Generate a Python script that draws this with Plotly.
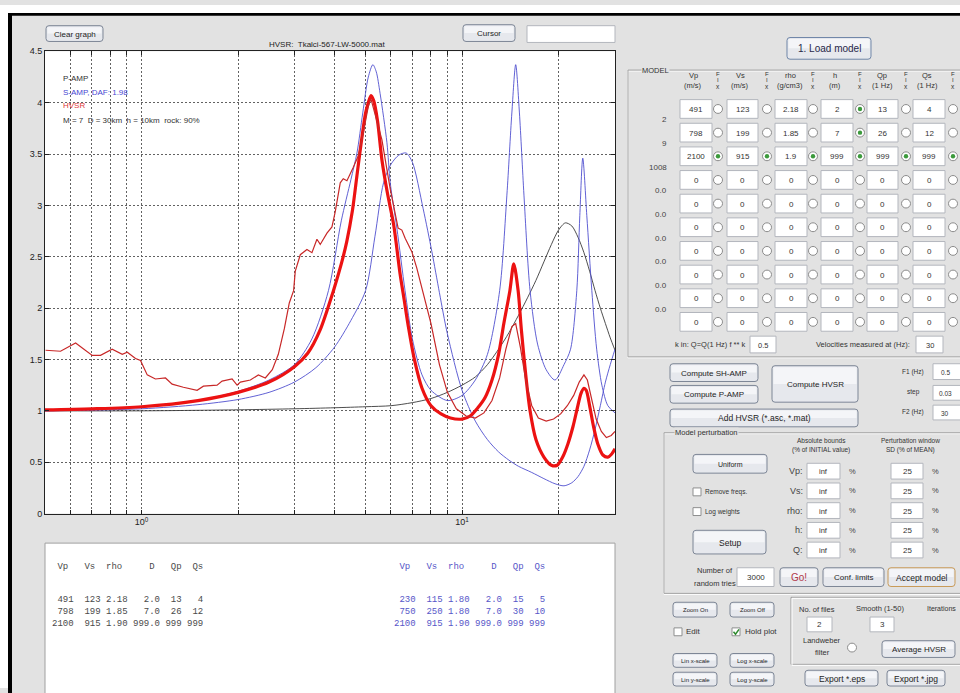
import plotly.graph_objects as go

W, H = 960, 693
BG = '#e2e2e2'

# ------------------------------------------------------------------ data
pamp_f = [0.5, 1, 2, 3, 4, 5, 6, 7, 8, 9, 10, 11, 12, 13, 14, 15, 16, 17, 18, 19, 20,
          21, 22, 23, 24, 25, 26, 27, 28, 29, 30]
pamp_v = [1.00, 1.00, 1.01, 1.02, 1.03, 1.04, 1.05, 1.08, 1.12, 1.18, 1.25, 1.33, 1.45,
          1.60, 1.76, 1.93, 2.10, 2.27, 2.45, 2.62, 2.76, 2.83, 2.80, 2.69, 2.54, 2.36,
          2.17, 2.00, 1.85, 1.71, 1.59]

sh1_f = [0.5, 1.0, 1.5, 2.0, 2.5, 3.0, 3.4, 3.83, 4.2, 4.5, 4.7, 4.9, 5.1, 5.27, 5.4,
         5.55, 5.83, 5.97, 6.26, 6.64, 7.0, 7.5, 8.0, 9.0, 10.0, 11.0, 12.0, 13.1, 13.8,
         14.3, 14.7, 15.1, 15.6, 16.3, 17.2, 18.3, 19.5, 20.8, 21.8, 22.8, 23.3, 23.8,
         24.5, 25.4, 26.3, 27.3, 28.5, 30.0]
sh1_v = [1.00, 1.04, 1.10, 1.19, 1.30, 1.45, 1.70, 2.17, 2.85, 3.25, 3.51, 3.90, 4.25,
         4.37, 4.30, 4.09, 3.61, 3.22, 2.78, 2.17, 1.70, 1.35, 1.20, 1.10, 1.15, 1.30,
         1.55, 2.17, 3.10, 3.90, 4.37, 3.90, 3.10, 2.17, 1.65, 1.40, 1.30, 1.45, 1.60,
         2.17, 2.90, 3.46, 2.90, 2.17, 1.60, 1.25, 1.05, 0.98]

sh2_f = [0.5, 1.0, 1.5, 2.0, 2.5, 3.0, 3.5, 4.0, 4.5, 5.0, 5.35, 5.69, 6.0, 6.35, 6.69,
         7.0, 7.56, 8.05, 8.5, 9.0, 10.0, 11.0, 12.0, 13.0, 14.0, 15.0, 16.5, 18.0, 19.5,
         20.8, 22.0, 23.0, 24.0, 25.0, 26.0, 27.0, 28.0, 29.0, 30.0]
sh2_v = [1.00, 1.02, 1.06, 1.11, 1.18, 1.28, 1.42, 1.62, 1.88, 2.17, 2.70, 3.22, 3.40,
         3.49, 3.51, 3.42, 2.97, 2.55, 2.15, 1.75, 1.20, 0.90, 0.72, 0.60, 0.52, 0.46,
         0.40, 0.34, 0.29, 0.27, 0.30, 0.36, 0.46, 0.62, 0.82, 1.05, 1.28, 1.45, 1.60]

hvsr_model_f = [0.5, 0.7, 1.0, 1.5, 2.0, 2.5, 3.0, 3.3, 3.6, 3.97, 4.2, 4.37, 4.55, 4.7,
                4.85, 5.0, 5.1, 5.2, 5.3, 5.45, 5.62, 5.85, 6.12, 6.41, 6.6, 6.8, 7.1,
                7.5, 8.0, 8.6, 9.2, 10.0, 10.6, 11.2, 11.8, 12.4, 13.0, 13.5, 14.1, 14.5,
                14.96, 15.3, 15.8, 16.3, 17.0, 18.0, 19.0, 19.8, 20.6, 21.4, 22.2, 22.9,
                23.5, 24.0, 24.4, 25.0, 25.7, 26.5, 27.5, 28.5, 29.3, 30.0]
hvsr_model_v = [1.01, 1.02, 1.04, 1.10, 1.18, 1.28, 1.43, 1.56, 1.78, 2.17, 2.43, 2.65,
                2.95, 3.29, 3.62, 3.90, 4.00, 4.07, 4.02, 3.82, 3.45, 3.12, 2.81, 2.33,
                2.08, 1.82, 1.50, 1.22, 1.05, 0.97, 0.93, 0.92, 0.95, 1.03, 1.13, 1.30,
                1.55, 1.85, 2.17, 2.43, 2.17, 1.80, 1.35, 1.00, 0.72, 0.55, 0.47, 0.47,
                0.55, 0.68, 0.85, 1.03, 1.17, 1.22, 1.20, 1.05, 0.85, 0.68, 0.57, 0.55,
                0.58, 0.63]

hvsr_obs_f = [0.502, 0.559, 0.623, 0.702, 0.745, 0.810, 0.871, 0.903, 0.958, 0.993, 1.042,
              1.105, 1.188, 1.246, 1.351, 1.491, 1.560, 1.721, 1.784, 1.917, 1.987, 2.035,
              2.186, 2.315, 2.434, 2.559, 2.672, 2.790, 2.891, 2.982, 3.018, 3.129, 3.282,
              3.402, 3.526, 3.611, 3.789, 3.928, 4.022, 4.169, 4.260, 4.374, 4.576, 4.743,
              4.916, 5.095, 5.194, 5.423, 5.622, 5.828, 5.968, 6.318, 6.489, 6.645, 6.971,
              7.225, 7.490, 8.0, 8.5, 9.0, 9.6, 10.3, 11.0, 11.7, 12.4, 13.1, 13.7, 14.3,
              14.7, 15.2, 15.8, 16.5, 17.3, 18.3, 19.3, 20.3, 21.3, 22.3, 23.2, 24.0, 24.6,
              25.3, 26.2, 27.2, 28.2, 29.2, 30.0]
hvsr_obs_v = [1.59, 1.58, 1.66, 1.54, 1.54, 1.60, 1.55, 1.57, 1.51, 1.49, 1.35, 1.31, 1.32,
              1.26, 1.23, 1.20, 1.24, 1.25, 1.29, 1.31, 1.25, 1.28, 1.30, 1.35, 1.32, 1.40,
              1.55, 1.80, 2.05, 2.17, 2.36, 2.52, 2.57, 2.54, 2.67, 2.62, 2.73, 2.79, 2.94,
              3.22, 3.26, 3.24, 3.37, 3.48, 3.70, 3.96, 4.04, 3.83, 3.64, 3.35, 3.16, 2.78,
              2.76, 2.68, 2.55, 2.39, 2.20, 1.85, 1.45, 1.18, 1.02, 0.95, 0.93, 0.98, 1.10,
              1.32, 1.60, 1.82, 1.85, 1.62, 1.30, 1.05, 0.93, 0.90, 0.92, 0.97, 1.05, 1.15,
              1.28, 1.35, 1.30, 1.12, 0.92, 0.80, 0.74, 0.76, 0.80]

y_tick_vals = [0, 0.5, 1, 1.5, 2, 2.5, 3, 3.5, 4, 4.5]
y_tick_text = ['0', '0.5', '1', '1.5', '2', '2.5', '3', '3.5', '4', '4.5']
x_tick_vals = [1, 10]
x_tick_text = ['10<sup>0</sup>', '10<sup>1</sup>']
x_minor_vals = [0.6, 0.7, 0.8, 0.9, 2, 3, 4, 5, 6, 7, 8, 9, 20]

# GUI model table values
model_cols = ['Vp', 'Vs', 'rho', 'h', 'Qp', 'Qs']
model_units = ['(m/s)', '(m/s)', '(g/cm3)', '(m)', '(1 Hz)', '(1 Hz)']
model_rows = [['491', '123', '2.18', '2', '13', '4'],
              ['798', '199', '1.85', '7', '26', '12'],
              ['2100', '915', '1.9', '999', '999', '999']] + [['0'] * 6 for _ in range(7)]
model_fix = [[0, 0, 0, 1, 0, 0], [0, 0, 0, 1, 0, 0], [1, 1, 1, 1, 1, 1]] + [[0] * 6 for _ in range(7)]
depth_labels = ['2', '9', '1008', '0.0', '0.0', '0.0', '0.0', '0.0', '0.0']

tab1 = [(491, 123, 2.18, 2.0, 13, 4), (798, 199, 1.85, 7.0, 26, 12), (2100, 915, 1.90, 999.0, 999, 999)]
tab2 = [(230, 115, 1.80, 2.0, 15, 5), (750, 250, 1.80, 7.0, 30, 10), (2100, 915, 1.90, 999.0, 999, 999)]
tab_header = ' Vp   Vs  rho     D   Qp  Qs'

pert_labels = ['Vp:', 'Vs:', 'rho:', 'h:', 'Q:']
pert_bounds = ['inf'] * 5
pert_sd = ['25'] * 5

# ------------------------------------------------------------------ helpers
def X(px):
    return px / W


def Y(py):
    return 1 - py / H


shapes = []
annots = []


def rect(x0, y0, x1, y1, fill=None, line=None, lw=1):
    shapes.append(dict(type='rect', xref='paper', yref='paper', x0=X(x0), x1=X(x1),
                       y0=Y(y1), y1=Y(y0), fillcolor=fill if fill else 'rgba(0,0,0,0)',
                       line=dict(color=line if line else 'rgba(0,0,0,0)', width=lw if line else 0),
                       layer='above'))


def rrect(x0, y0, x1, y1, r, fill, line, lw=1):
    def p(a, b):
        return f'{X(a):.5f},{Y(b):.5f}'
    path = (f'M {p(x0 + r, y0)} L {p(x1 - r, y0)} Q {p(x1, y0)} {p(x1, y0 + r)} '
            f'L {p(x1, y1 - r)} Q {p(x1, y1)} {p(x1 - r, y1)} L {p(x0 + r, y1)} '
            f'Q {p(x0, y1)} {p(x0, y1 - r)} L {p(x0, y0 + r)} Q {p(x0, y0)} {p(x0 + r, y0)} Z')
    shapes.append(dict(type='path', xref='paper', yref='paper', path=path,
                       fillcolor=fill if fill else 'rgba(0,0,0,0)',
                       line=dict(color=line if line else 'rgba(0,0,0,0)', width=lw if line else 0),
                       layer='above'))


def circle(cx, cy, r, fill, line, lw=1):
    shapes.append(dict(type='circle', xref='paper', yref='paper', x0=X(cx - r), x1=X(cx + r),
                       y0=Y(cy + r), y1=Y(cy - r), fillcolor=fill,
                       line=dict(color=line if line else 'rgba(0,0,0,0)', width=lw if line else 0),
                       layer='above'))


def txt(x, y, s, size=8, color='#222222', xanchor='center', family='Liberation Sans', bg=None):
    d = dict(x=X(x), y=Y(y), xref='paper', yref='paper', text=s, showarrow=False,
             xanchor=xanchor, yanchor='middle', font=dict(size=size, color=color, family=family),
             borderpad=0)
    if bg:
        d['bgcolor'] = bg
    annots.append(d)


def button(x0, y0, x1, y1, label, size=8, color='#1e1e1e', border='#7d8696'):
    rrect(x0, y0, x1, y1, 3, '#e6e8ed', border)
    rect(x0 + 1.5, y0 + 1.5, x1 - 1.5, (y0 + y1) / 2, fill='#f4f5f8')
    txt((x0 + x1) / 2, (y0 + y1) / 2 + 0.5, label, size, color)


def tbox(x0, y0, x1, y1, label='', size=8, color='#333333'):
    rect(x0, y0, x1, y1, fill='white', line='#b3b6bd')
    if label:
        txt((x0 + x1) / 2, (y0 + y1) / 2 + 0.5, label, size, color)


def radio(cx, cy, sel=False):
    circle(cx, cy, 4.5, 'white', '#8c8c8c')
    if sel:
        circle(cx, cy, 2.2, '#3c9a3c', None)


def checkbox(x0, y0, checked=False):
    rect(x0, y0, x0 + 8, y0 + 8, fill='white', line='#8e8f8f')
    if checked:
        shapes.append(dict(type='path', xref='paper', yref='paper',
                           path=f'M {X(x0 + 1.5)},{Y(y0 + 4)} L {X(x0 + 3.5)},{Y(y0 + 6.5)} L {X(x0 + 7)},{Y(y0 + 1.5)}',
                           line=dict(color='#2d8a2d', width=1.5), layer='above'))


def group(x0, y0, x1, y1, label=None, lx=None):
    rect(x0, y0 + 1, x1, y1 + 1, line='#ffffff')
    rect(x0, y0, x1, y1, line='#a4a4a4')
    if label:
        txt(lx, y0, label, 7.5, '#333333', xanchor='left', bg=BG)


def mono(s):
    return s.replace(' ', '\u00a0')


# ------------------------------------------------------------------ frame
rect(0, 0, 960, 8, fill='white')
rect(0, 0, 8, 693, fill='white')
rect(8, 8, 970, 11, fill='black')
rect(8, 8, 12, 700, fill='black')

# top controls
button(46, 21, 103, 37, 'Clear graph')
button(463, 20, 515, 37, 'Cursor')
tbox(527, 21, 615, 38)
txt(327, 40, 'HVSR:  Tkalci-567-LW-5000.mat', 8)

# bottom text panel
rect(45, 546, 615, 700, fill='white', line='#a0a0a0')
txt(51, 570, mono(tab_header), 9, '#4a4a4a', 'left', 'Liberation Mono')
txt(393, 570, mono(tab_header), 9, '#5656c8', 'left', 'Liberation Mono')
for i, (a, b) in enumerate(zip(tab1, tab2)):
    s1 = f'{a[0]:4d} {a[1]:4d} {a[2]:4.2f} {a[3]:5.1f} {a[4]:3d} {a[5]:3d}'
    s2 = f'{b[0]:4d} {b[1]:4d} {b[2]:4.2f} {b[3]:5.1f} {b[4]:3d} {b[5]:3d}'
    txt(51, 604 + 12 * i, mono(s1), 9, '#4a4a4a', 'left', 'Liberation Mono')
    txt(393, 604 + 12 * i, mono(s2), 9, '#5656c8', 'left', 'Liberation Mono')

# ------------------------------------------------------------------ right panel
button(787, 33, 871, 55, '1. Load model', 10, '#28284a', '#6f86a8')
group(628, 66, 975, 357, 'MODEL', 641)

col_box = [(680, 712), (727, 758), (775, 807), (821, 853), (867, 898), (913, 945)]
col_radio = [718, 767, 813, 860, 906, 953]
col_head = [693, 740, 790, 835, 882, 927]
for j in range(6):
    txt(col_head[j], 72, model_cols[j], 7.5, '#333333')
    txt(col_head[j], 82, model_units[j], 7.5, '#333333')
    txt(col_radio[j], 70, 'F', 6, '#333333')
    txt(col_radio[j], 76, 'I', 6, '#333333')
    txt(col_radio[j], 82.5, 'x', 6.5, '#333333')

for i, row in enumerate(model_rows):
    cy = 105.5 + 24 * i
    for j in range(6):
        tbox(col_box[j][0], cy - 9.5, col_box[j][1], cy + 9.5, row[j], 8)
        radio(col_radio[j], cy, model_fix[i][j] == 1)
for i, lab in enumerate(depth_labels):
    txt(668, 105.5 + 24 * i + 11, lab, 8, '#444444', 'right')

txt(746, 344, 'k in: Q=Q(1 Hz) f ** k', 7.5, '#333333', 'right')
tbox(750, 336, 776, 353, '0.5', 7.5)
txt(863, 344, 'Velocities measured at (Hz):', 7.5, '#333333')
tbox(916, 336, 943, 353, '30', 7.5)

button(670, 364, 758, 382, 'Compute SH-AMP')
button(670, 386, 758, 404, 'Compute P-AMP')
button(772, 366, 858, 403, 'Compute HVSR')
button(670, 410, 858, 428, 'Add HVSR (*.asc, *.mat)', 8.5)
txt(913, 372, 'F1 (Hz)', 6.5, '#333333')
txt(913, 393, 'step', 6.5, '#333333')
txt(913, 413, 'F2 (Hz)', 6.5, '#333333')
tbox(933, 364, 964, 380)
tbox(933, 386, 964, 401)
tbox(933, 406, 964, 421)
txt(945, 372.5, '0.5', 6.5, '#333333')
txt(945, 394, '0.03', 6.5, '#333333')
txt(945, 414, '30', 6.5, '#333333')

group(664, 434, 975, 597, 'Model perturbation', 674)
txt(821, 442, 'Absolute bounds', 6.5, '#333333')
txt(821, 452, '(% of INITIAL value)', 6.5, '#333333')
txt(910, 442, 'Perturbation window', 6.5, '#333333')
txt(910, 452, 'SD (% of MEAN)', 6.5, '#333333')
button(693, 456, 767, 475, 'Uniform', 7)
checkbox(693, 490)
txt(704, 494, 'Remove freqs.', 6.5, '#333333', 'left')
checkbox(693, 510)
txt(704, 514, 'Log weights', 6.5, '#333333', 'left')
for i in range(5):
    cy = 473 + 20 * i
    txt(804, cy, pert_labels[i], 9, '#444444', 'right')
    tbox(807, cy - 8, 840, cy + 8, pert_bounds[i], 7.5)
    txt(852, cy, '%', 7.5, '#444444')
    tbox(891, cy - 8, 923, cy + 8, pert_sd[i], 8)
    txt(935, cy, '%', 7.5, '#444444')
button(693, 533, 766, 557, 'Setup', 8.5)
txt(715, 574, 'Number of', 7.5, '#333333')
txt(715, 587, 'random tries', 7.5, '#333333')
tbox(737, 571, 774, 590, '3000', 8)
button(780, 571, 818, 590, 'Go!', 10, '#b23a4a')
button(823, 571, 884, 590, 'Conf. limits', 8)
button(888, 571, 955, 590, 'Accept model', 8.5, '#1e1e1e', '#c89a58')

button(673, 606, 717, 621, 'Zoom On', 6)
button(730, 606, 774, 621, 'Zoom Off', 6)
checkbox(674, 632)
txt(685, 636, 'Edit', 8, '#333333', 'left')
checkbox(732, 632, True)
txt(744, 636, 'Hold plot', 8, '#333333', 'left')
button(673, 658, 717, 672, 'Lin x-scale', 6)
button(730, 658, 774, 672, 'Log x-scale', 6)
button(673, 677, 717, 691, 'Lin y-scale', 6)
button(730, 677, 774, 691, 'Log y-scale', 6)

rect(791, 601, 975, 669, line='#9a9a9a')
rect(792, 602, 975, 670, line='#ffffff')
txt(817, 613, 'No. of files', 7.5, '#333333')
txt(880, 612, 'Smooth (1-50)', 7.5, '#333333')
txt(941, 612, 'Iterations', 7, '#333333')
tbox(807, 621, 832, 636, '2', 8)
tbox(870, 621, 894, 636, '3', 8)
txt(822, 645, 'Landweber', 7.5, '#333333')
txt(822, 657, 'filter', 7.5, '#333333')
radio(852, 652)
button(882, 645, 955, 662, 'Average HVSR', 8)
button(805, 675, 878, 691, 'Export *.eps', 8.5)
button(887, 675, 945, 691, 'Export *.jpg', 8.5)

# in-plot legend text
txt(62, 75, 'P-AMP', 8, '#333333', 'left')
txt(62, 89, 'S-AMP, DAF: 1.98', 8, '#4646d2', 'left')
txt(62, 102, 'HVSR', 8, '#e03a3a', 'left')
txt(62, 117, 'M = 7  D = 30km  h = 10km  rock: 90%'.replace('  ', '\u00a0 '), 8, '#333333', 'left')

# ------------------------------------------------------------------ traces
fig = go.Figure()
fig.add_trace(go.Scatter(x=pamp_f, y=pamp_v, mode='lines', line=dict(color='#3a3a3a', width=0.9, shape='spline', smoothing=0.8), hoverinfo='skip'))
fig.add_trace(go.Scatter(x=sh2_f, y=sh2_v, mode='lines', line=dict(color='#4f4fcf', width=0.9, shape='spline', smoothing=0.8), hoverinfo='skip'))
fig.add_trace(go.Scatter(x=sh1_f, y=sh1_v, mode='lines', line=dict(color='#4f4fcf', width=0.9, shape='spline', smoothing=0.8), hoverinfo='skip'))
fig.add_trace(go.Scatter(x=hvsr_model_f, y=hvsr_model_v, mode='lines', line=dict(color='#ec1212', width=3.2, shape='spline', smoothing=0.8), hoverinfo='skip'))
fig.add_trace(go.Scatter(x=hvsr_obs_f, y=hvsr_obs_v, mode='lines', line=dict(color='#c82828', width=1.2), hoverinfo='skip'))

grid_style = dict(showgrid=True, gridcolor='#626262', griddash='2px,2px', gridwidth=1)
fig.update_layout(
    width=W, height=H, margin=dict(l=0, r=0, t=0, b=0),
    paper_bgcolor=BG, plot_bgcolor='white', showlegend=False,
    font=dict(family='Liberation Sans', size=9, color='#222222'),
    shapes=shapes, annotations=annots,
    xaxis=dict(type='log', range=[-0.30103, 1.47712], domain=[X(45), X(615)],
               tickmode='array', tickvals=x_tick_vals, ticktext=x_tick_text,
               ticks='inside', ticklen=4, tickcolor='#222222',
               minor=dict(tickmode='array', tickvals=x_minor_vals, ticks='inside', ticklen=4,
                          tickcolor='#222222', **grid_style),
               showline=True, linecolor='#222222', linewidth=1, mirror='ticks',
               zeroline=False, tickfont=dict(size=9), fixedrange=True, **grid_style),
    yaxis=dict(range=[0, 4.5], domain=[Y(516), Y(47)], tickmode='array',
               tickvals=y_tick_vals, ticktext=y_tick_text, ticks='inside', ticklen=4,
               tickcolor='#222222', showline=True, linecolor='#222222', linewidth=1,
               mirror='ticks', zeroline=False, tickfont=dict(size=9), fixedrange=True,
               **grid_style),
)

fig.write_html('out.html', config={'displayModeBar': False},
               post_script="document.body.style.margin='0px';document.body.style.overflow='hidden';")
